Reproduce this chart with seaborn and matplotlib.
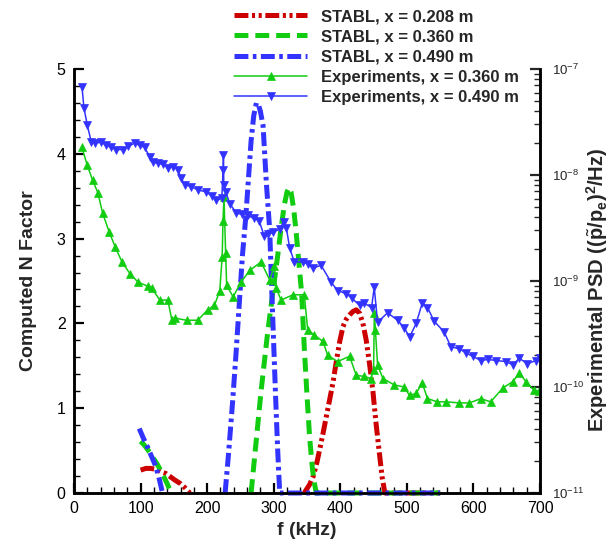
import numpy as np
import matplotlib
matplotlib.use("Agg")
import matplotlib.pyplot as plt
import seaborn as sns
from matplotlib.ticker import MultipleLocator, LogLocator, NullFormatter

sns.set_style("white")
plt.rcParams["font.family"] = ["Liberation Sans", "DejaVu Sans"]
plt.rcParams["mathtext.fontset"] = "custom"
plt.rcParams["mathtext.rm"] = "Liberation Sans"
plt.rcParams["mathtext.bf"] = "Liberation Sans:bold"
plt.rcParams["mathtext.it"] = "Liberation Sans:italic"
plt.rcParams["lines.scale_dashes"] = False

# ---- STABL computed N factors (left axis) ----
stabl208_low_f = [100, 108, 115, 123, 130, 138, 145, 152, 160, 167, 174]
stabl208_low_n = [0.27, 0.29, 0.29, 0.28, 0.25, 0.23, 0.19, 0.15, 0.11, 0.06, 0.0]
stabl208_peak_f = [346, 349, 354, 359, 364, 369, 374, 379, 384, 389, 394, 399, 404,
                   409, 414, 419, 424, 429, 434, 439, 444, 449, 454, 459, 463, 467, 550]
stabl208_peak_n = [0.0, 0.04, 0.10, 0.19, 0.33, 0.51, 0.70, 0.90, 1.10, 1.30, 1.55, 1.78,
                   1.96, 2.05, 2.10, 2.14, 2.16, 2.12, 2.00, 1.80, 1.52, 1.20, 0.80, 0.45,
                   0.18, 0.0, 0.0]

stabl360_low_f = [100, 105, 110, 115, 120, 125, 130, 135, 140, 146]
stabl360_low_n = [0.61, 0.57, 0.52, 0.46, 0.40, 0.34, 0.27, 0.19, 0.11, 0.0]
stabl360_peak_f = [266, 271, 276, 281, 286, 291, 296, 301, 306, 311, 316, 320, 323, 326,
                   330, 334, 338, 342, 346, 350, 354, 358, 361, 364, 550]
stabl360_peak_n = [0.0, 0.40, 0.80, 1.20, 1.55, 1.90, 2.20, 2.50, 2.80, 3.12, 3.40, 3.55,
                   3.60, 3.55, 3.35, 3.05, 2.70, 2.35, 1.70, 1.15, 0.65, 0.30, 0.12, 0.0, 0.0]

stabl490_low_f = [98, 104, 110, 116, 122, 127, 133]
stabl490_low_n = [0.76, 0.65, 0.55, 0.44, 0.33, 0.20, 0.0]
stabl490_peak_f = [227, 232, 238, 243, 248, 253, 258, 262, 266, 270, 274, 277, 280, 284,
                   289, 294, 297, 300, 303, 306, 309, 550]
stabl490_peak_n = [0.0, 0.45, 1.05, 1.60, 2.20, 2.80, 3.25, 3.70, 4.15, 4.45, 4.60, 4.58,
                   4.50, 4.33, 3.65, 3.10, 2.40, 1.75, 1.10, 0.50, 0.0, 0.0]

# ---- Measured pressure PSD (right axis), log10 of (p~/pe)^2/Hz ----
exp360_f = [12, 20, 28, 36, 43, 53, 62, 72, 84, 96, 111, 117, 129, 141, 147, 151, 169, 186,
            201, 211, 219, 222.6, 223.8, 225.3, 227.8, 229.3, 239, 251, 264, 281, 294, 301,
            304, 311, 329, 346, 351, 361, 374, 381, 396, 414, 424, 436, 446, 450, 451.2,
            452.7, 456, 464, 481, 496, 504, 514, 523, 531, 546, 559, 579, 594, 611, 626,
            644, 659, 669, 679, 691, 699]
exp360_log10psd = [-7.74, -7.91, -8.05, -8.17, -8.36, -8.54, -8.68, -8.82, -8.93, -9.01,
                   -9.05, -9.07, -9.18, -9.18, -9.37, -9.35, -9.37, -9.37, -9.27, -9.23,
                   -9.09, -8.77, -8.43, -8.21, -8.74, -9.04, -9.15, -9.01, -8.90, -8.82,
                   -8.99, -8.86, -9.07, -9.18, -9.13, -9.13, -9.46, -9.51, -9.57, -9.70,
                   -9.76, -9.71, -9.89, -9.90, -9.92, -9.84, -9.30, -9.46, -9.79, -9.92,
                   -9.98, -10.00, -10.08, -10.06, -9.96, -10.11, -10.14, -10.14, -10.15,
                   -10.15, -10.11, -10.14, -10.01, -9.95, -9.87, -9.95, -10.03, -10.04]

exp490_f = [12, 15, 20, 26, 32, 41, 48, 56, 63, 73, 81, 91, 99, 106, 114, 119, 126, 134,
            141, 149, 156, 161, 166, 176, 186, 199, 207, 214, 222, 224, 224.5, 225, 228,
            234, 244, 252, 261, 270, 278, 286, 292, 299, 309, 315, 319, 324, 331, 344,
            351, 359, 371, 386, 396, 409, 417, 429, 436, 447, 451, 456, 471, 486, 496,
            504, 514, 523, 531, 541, 556, 566, 579, 589, 599, 611, 622, 634, 649, 659,
            669, 681, 694, 700]
exp490_log10psd = [-7.17, -7.37, -7.53, -7.69, -7.70, -7.69, -7.72, -7.74, -7.76, -7.76,
                   -7.73, -7.70, -7.72, -7.74, -7.83, -7.88, -7.89, -7.90, -7.93, -7.92,
                   -7.95, -8.03, -8.09, -8.11, -8.14, -8.16, -8.20, -8.24, -8.22, -7.95,
                   -7.81, -8.09, -8.16, -8.27, -8.36, -8.37, -8.38, -8.41, -8.43, -8.58,
                   -8.56, -8.54, -8.51, -8.44, -8.50, -8.69, -8.82, -8.82, -8.84, -8.88,
                   -8.85, -9.01, -9.09, -9.12, -9.16, -9.23, -9.21, -9.25, -9.06, -9.39,
                   -9.30, -9.37, -9.44, -9.53, -9.40, -9.21, -9.25, -9.38, -9.48, -9.62,
                   -9.64, -9.68, -9.71, -9.75, -9.74, -9.75, -9.76, -9.79, -9.73, -9.78,
                   -9.75, -9.73]

labels = ["STABL, x = 0.208 m", "STABL, x = 0.360 m", "STABL, x = 0.490 m",
          "Experiments, x = 0.360 m", "Experiments, x = 0.490 m"]

RED, GREEN, BLUE = "#cc0000", "#11cc11", "#3333ff"
dash_dotdot = (0, (10, 2.6, 2.2, 2.6, 2.2, 2.6))
dashed = (0, (10, 5))
dash_dot = (0, (10, 3.2, 2.6, 3.2))

fig = plt.figure(figsize=(6.09, 5.45), dpi=100)
ax = fig.add_axes([74 / 609, 1 - 493 / 545, (540 - 74) / 609, (493 - 69) / 545])
ax2 = ax.twinx()
ax2.set_yscale("log")

stabl = [
    (stabl208_low_f, stabl208_low_n, stabl208_peak_f, stabl208_peak_n, RED, dash_dotdot),
    (stabl360_low_f, stabl360_low_n, stabl360_peak_f, stabl360_peak_n, GREEN, dashed),
    (stabl490_low_f, stabl490_low_n, stabl490_peak_f, stabl490_peak_n, BLUE, dash_dot),
]
for (lf, ln, pf, pn, col, ls), lab in zip(stabl, labels[:3]):
    sns.lineplot(x=pf, y=pn, ax=ax, color=col, linewidth=3.6, linestyle=ls,
                 sort=False, estimator=None, label=lab, legend=False,
                 clip_on=False, zorder=3)
    sns.lineplot(x=lf, y=ln, ax=ax, color=col, linewidth=3.6, linestyle=ls,
                 sort=False, estimator=None, legend=False, clip_on=False, zorder=3)

exps = [
    (exp360_f, exp360_log10psd, GREEN, "^"),
    (exp490_f, exp490_log10psd, BLUE, "v"),
]
for (f, lp, col, mk), lab in zip(exps, labels[3:]):
    psd = 10.0 ** np.asarray(lp)
    sns.lineplot(x=f, y=psd, ax=ax2, color=col, linewidth=1.1, marker=mk,
                 markersize=6, markeredgecolor=col, markeredgewidth=0.5,
                 sort=False, estimator=None, label=lab, legend=False)

ax.set_xlim(0, 700)
ax.set_ylim(0, 5)
ax2.set_ylim(1e-11, 1e-7)

ax.xaxis.set_major_locator(MultipleLocator(100))
ax.xaxis.set_minor_locator(MultipleLocator(20))
ax.yaxis.set_major_locator(MultipleLocator(1))
ax.yaxis.set_minor_locator(MultipleLocator(0.2))
ax2.yaxis.set_major_locator(LogLocator(base=10, numticks=10))
ax2.yaxis.set_minor_locator(LogLocator(base=10, subs=np.arange(2, 10), numticks=10))
ax2.yaxis.set_minor_formatter(NullFormatter())

ax.tick_params(axis="both", which="both", direction="in", top=False, right=False,
               left=True, bottom=True, colors="black")
ax.tick_params(which="major", length=7, width=1.6, labelsize=11.5, pad=6)
ax.tick_params(which="minor", length=4, width=1.0)
ax2.tick_params(axis="y", which="both", direction="in", right=True, left=False)
ax2.tick_params(which="major", length=7, width=1.6, labelsize=9.5, pad=9)
ax2.tick_params(which="minor", length=4, width=1.0)

for a in (ax, ax2):
    a.spines["top"].set_visible(False)
    for s in ("left", "right", "bottom"):
        a.spines[s].set_linewidth(1.8)
        a.spines[s].set_color("black")
    a.grid(False)

ax2.set_xlabel("")
ax2.xaxis.label.set_visible(False)
ax.set_xlabel("f (kHz)", fontsize=14, fontweight="bold")
ax.set_ylabel("Computed N Factor", fontsize=14, fontweight="bold")
ax2.set_ylabel(r"Experimental PSD (($\tilde{\mathbf{p}}$/p$_\mathbf{e}$)$^\mathbf{2}$/Hz)",
               fontsize=14.5, fontweight="bold")
ax.xaxis.set_label_coords(0.5, -0.068)
ax.yaxis.set_label_coords(-0.08, 0.5)
ax2.yaxis.set_label_coords(1.094, 0.48)

h1, l1 = ax.get_legend_handles_labels()
h2, l2 = ax2.get_legend_handles_labels()
fig.legend(h1 + h2, l1 + l2, loc="upper left", bbox_to_anchor=(234 / 609, 1 - 9 / 545),
           frameon=False, borderpad=0, borderaxespad=0, handlelength=4.4,
           handletextpad=0.8, labelspacing=0.32, numpoints=1,
           prop={"weight": "bold", "size": 12})

fig.savefig("out.png", dpi=100)
